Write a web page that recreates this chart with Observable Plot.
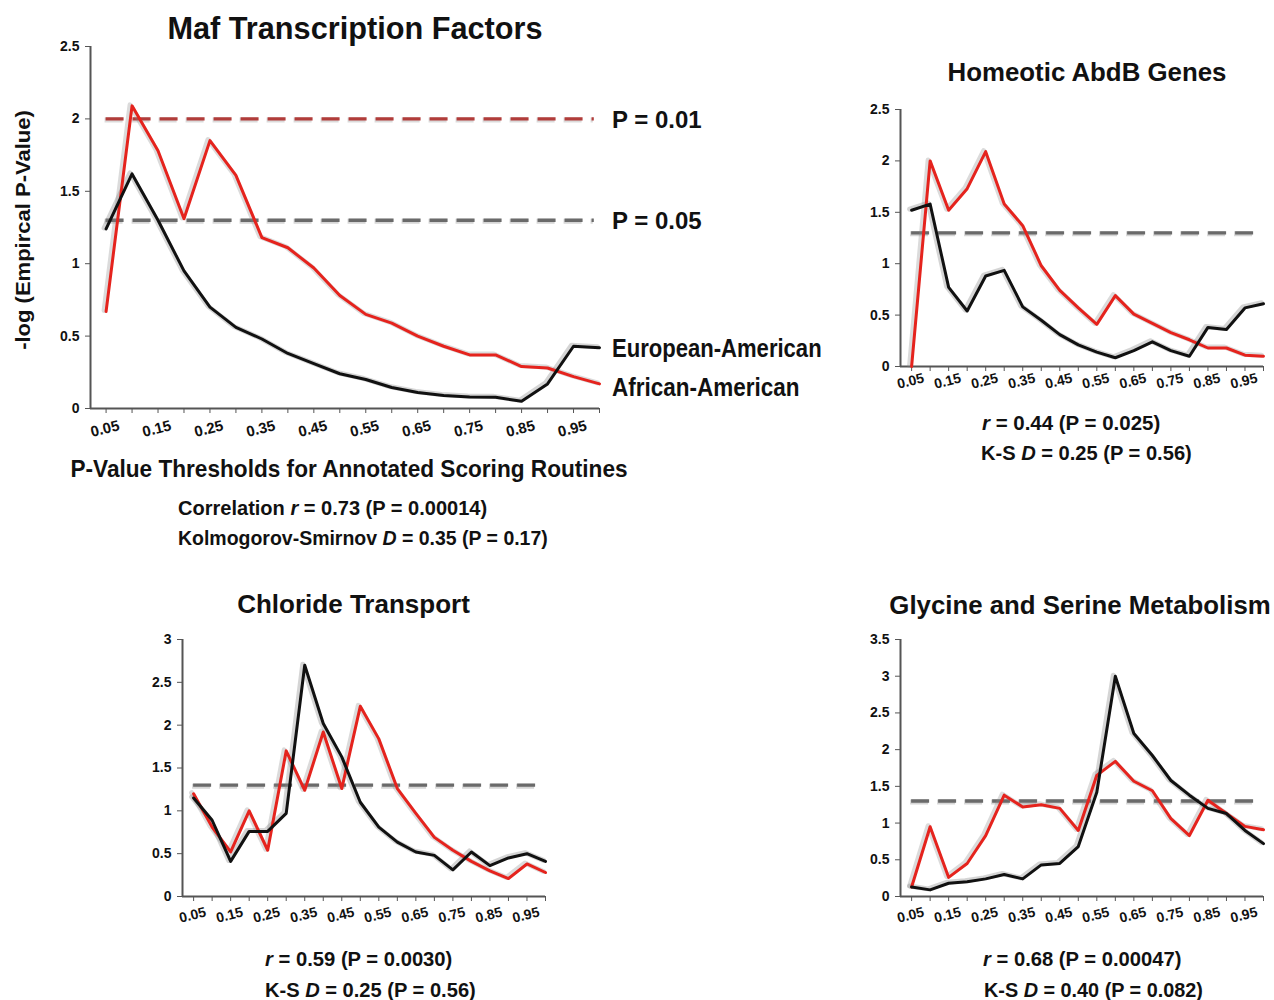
<!DOCTYPE html>
<html>
<head>
<meta charset="utf-8">
<script src="https://cdn.jsdelivr.net/npm/d3@7"></script>
<script src="https://cdn.jsdelivr.net/npm/@observablehq/plot@0.6"></script>
<style>
  html, body { margin: 0; padding: 0; background: #fff; }
  #page { position: relative; width: 1274px; height: 1000px; overflow: hidden; background: #fff; }
  .panel { position: absolute; }
  .t { position: absolute; white-space: nowrap; font-weight: bold; color: #111; line-height: 1;
       font-family: "Liberation Sans", Arial, sans-serif; }
</style>
</head>
<body>
<div id="page"></div>
<script>
// ---------------- data ----------------
const thresholds = [0.05, 0.10, 0.15, 0.20, 0.25, 0.30, 0.35, 0.40, 0.45, 0.50,
                    0.55, 0.60, 0.65, 0.70, 0.75, 0.80, 0.85, 0.90, 0.95, 1.00];
const tickValues = [0.05, 0.15, 0.25, 0.35, 0.45, 0.55, 0.65, 0.75, 0.85, 0.95];
const tickLabels = ["0.05", "0.15", "0.25", "0.35", "0.45", "0.55", "0.65", "0.75", "0.85", "0.95"];
const sigLevels = [2.0, 1.3];   // -log10(0.01), -log10(0.05)

// Maf Transcription Factors
const mafEuropean = [1.24, 1.62, 1.30, 0.95, 0.70, 0.56, 0.48, 0.38, 0.31, 0.24,
                     0.20, 0.145, 0.11, 0.09, 0.08, 0.077, 0.05, 0.17, 0.43, 0.42];
const mafAfrican  = [0.67, 2.09, 1.78, 1.31, 1.85, 1.61, 1.18, 1.11, 0.97, 0.78,
                     0.65, 0.59, 0.50, 0.43, 0.37, 0.37, 0.29, 0.28, 0.22, 0.17];
// Homeotic AbdB Genes
const abdbEuropean = [1.52, 1.58, 0.77, 0.54, 0.88, 0.935, 0.58, 0.45, 0.31, 0.21,
                      0.14, 0.085, 0.155, 0.24, 0.155, 0.10, 0.38, 0.36, 0.57, 0.61];
const abdbAfrican  = [0.0, 2.0, 1.52, 1.73, 2.09, 1.58, 1.37, 0.98, 0.74, 0.57,
                      0.41, 0.69, 0.51, 0.42, 0.33, 0.26, 0.18, 0.18, 0.11, 0.10];
// Chloride Transport
const chlorEuropean = [1.15, 0.89, 0.41, 0.76, 0.76, 0.97, 2.70, 2.02, 1.63, 1.10,
                       0.81, 0.635, 0.52, 0.48, 0.31, 0.52, 0.36, 0.45, 0.50, 0.41];
const chlorAfrican  = [1.20, 0.81, 0.52, 1.00, 0.54, 1.70, 1.24, 1.92, 1.26, 2.22,
                       1.84, 1.26, 0.97, 0.69, 0.54, 0.41, 0.30, 0.21, 0.38, 0.28];
// Glycine and Serine Metabolism
const glyEuropean = [0.13, 0.09, 0.18, 0.20, 0.24, 0.30, 0.24, 0.43, 0.45, 0.68,
                     1.42, 3.00, 2.22, 1.92, 1.58, 1.38, 1.20, 1.13, 0.90, 0.72];
const glyAfrican  = [0.13, 0.95, 0.26, 0.45, 0.83, 1.38, 1.22, 1.25, 1.20, 0.90,
                     1.65, 1.84, 1.57, 1.44, 1.06, 0.83, 1.31, 1.13, 0.955, 0.91];

// ---------------- drawing ----------------
const RED = "#e5231d", BLACK = "#111111", AXIS = "#555555";
const TICK_FONT = "Liberation Sans, Arial, sans-serif";
const page = document.getElementById("page");

function rows(series) { return thresholds.map((t, i) => ({t, v: series[i]})); }

function panel({left, top, width, height, mL, mR, mT, mB, yMax, yTicks, eu, af, redRule, ruleEnd, labelDy, fsY, fsX}) {
  const marks = [];
  const x1 = 0.05, x2 = ruleEnd;
  // threshold rules (with soft shadow)
  if (redRule) {
    marks.push(Plot.ruleY([sigLevels[0]], {x1, x2, stroke: "#999", strokeOpacity: 0.35, strokeWidth: 5, strokeDasharray: "18,9", dx: -1, dy: 1}));
    marks.push(Plot.ruleY([sigLevels[0]], {x1, x2, stroke: "#b13c3a", strokeWidth: 3.4, strokeDasharray: "18,9"}));
  }
  marks.push(Plot.ruleY([sigLevels[1]], {x1, x2, stroke: "#999", strokeOpacity: 0.4, strokeWidth: 5, strokeDasharray: "18,9", dx: -1, dy: 1}));
  marks.push(Plot.ruleY([sigLevels[1]], {x1, x2, stroke: "#6a6a6a", strokeWidth: 3.4, strokeDasharray: "18,9"}));
  // axes
  marks.push(Plot.ruleX([0.02], {stroke: AXIS, strokeWidth: 2}));
  marks.push(Plot.ruleY([0], {stroke: AXIS, strokeWidth: 2}));
  marks.push(Plot.axisY({ticks: yTicks, tickSize: 5, tickPadding: 6, tickFormat: d => String(d),
                         stroke: AXIS, fill: "#111", label: null,
                         fontSize: fsY, fontWeight: "bold", fontFamily: TICK_FONT}));
  marks.push(Plot.axisX({ticks: thresholds, tickSize: 5, tickFormat: () => "", stroke: AXIS, label: null}));
  marks.push(Plot.text(tickValues, {x: d => d, text: (d, i) => tickLabels[i], frameAnchor: "bottom",
                                    dy: labelDy, rotate: -14, fill: "#111",
                                    fontSize: fsX, fontWeight: "bold", fontFamily: TICK_FONT}));
  // data lines with shadow
  marks.push(Plot.line(rows(eu), {x: "t", y: "v", stroke: "#888", strokeOpacity: 0.35, strokeWidth: 5, dx: -2, dy: -1}));
  marks.push(Plot.line(rows(af), {x: "t", y: "v", stroke: "#888", strokeOpacity: 0.3, strokeWidth: 5, dx: -2, dy: -1}));
  marks.push(Plot.line(rows(af), {x: "t", y: "v", stroke: RED, strokeWidth: 3}));
  marks.push(Plot.line(rows(eu), {x: "t", y: "v", stroke: BLACK, strokeWidth: 3}));

  const svg = Plot.plot({
    width, height, marginLeft: mL, marginRight: mR, marginTop: mT, marginBottom: mB,
    x: {domain: [0.02, 1.0], axis: null},
    y: {domain: [0, yMax], axis: null},
    style: {fontFamily: TICK_FONT, fontWeight: "bold", background: "transparent", overflow: "visible"},
    marks
  });
  const div = document.createElement("div");
  div.className = "panel";
  div.style.left = left + "px";
  div.style.top = top + "px";
  div.appendChild(svg);
  page.appendChild(div);
}

// text placed by its cap-centre y, squeezed horizontally to the reference width
function text(html, x, y, size, targetWidth, anchor = "middle", rotate = 0) {
  const d = document.createElement("div");
  d.className = "t";
  d.innerHTML = html;
  d.style.fontSize = size + "px";
  page.appendChild(d);
  const w = d.offsetWidth;
  const k = targetWidth ? targetWidth / w : 1;
  d.style.left = x + "px";
  d.style.top = y + "px";
  d.style.transformOrigin = "0 0";
  if (rotate) {
    d.style.transform = `rotate(${rotate}deg) scaleX(${k}) translate(-50%, -50%)`;
  } else if (anchor === "middle") {
    d.style.transform = `scaleX(${k}) translate(-50%, -50%)`;
  } else {
    d.style.transform = `scaleX(${k}) translate(0, -50%)`;
  }
  return d;
}

// Main panel
panel({left: 0, top: 30, width: 620, height: 420, mL: 90, mR: 21, mT: 16, mB: 42,
       yMax: 2.5, yTicks: [0, 0.5, 1, 1.5, 2, 2.5], eu: mafEuropean, af: mafAfrican,
       redRule: true, ruleEnd: 0.99, labelDy: 25, fsY: 14, fsX: 15});
// Homeotic
panel({left: 860, top: 90, width: 414, height: 320, mL: 40, mR: 11, mT: 19, mB: 44,
       yMax: 2.5, yTicks: [0, 0.5, 1, 1.5, 2, 2.5], eu: abdbEuropean, af: abdbAfrican,
       redRule: false, ruleEnd: 0.975, labelDy: 19, fsY: 14, fsX: 14});
// Chloride
panel({left: 140, top: 620, width: 420, height: 320, mL: 42, mR: 15, mT: 19, mB: 44,
       yMax: 3, yTicks: [0, 0.5, 1, 1.5, 2, 2.5, 3], eu: chlorEuropean, af: chlorAfrican,
       redRule: false, ruleEnd: 0.975, labelDy: 23, fsY: 14, fsX: 14});
// Glycine
panel({left: 860, top: 620, width: 414, height: 320, mL: 40, mR: 11, mT: 19, mB: 44,
       yMax: 3.5, yTicks: [0, 0.5, 1, 1.5, 2, 2.5, 3, 3.5], eu: glyEuropean, af: glyAfrican,
       redRule: false, ruleEnd: 0.975, labelDy: 23, fsY: 14, fsX: 14});

// ---------------- text ----------------
text("Maf Transcription Factors", 354.5, 28, 32, 375);
text("-log (Empircal P-Value)", 22, 230, 21, 240, "middle", -90);
text("P = 0.01", 612, 120, 24, 90, "start");
text("P = 0.05", 612, 221, 24, 90, "start");
text("European-American", 612, 348, 25, 210, "start");
text("African-American", 612, 387, 25, 187, "start");
text("P-Value Thresholds for Annotated Scoring Routines", 348.5, 469, 24, 557);
text("Correlation <i>r</i> = 0.73 (P = 0.00014)", 178, 507, 21, 309, "start");
text("Kolmogorov-Smirnov <i>D</i> = 0.35 (P = 0.17)", 178, 537, 21, 370, "start");

text("Homeotic AbdB Genes", 1086.5, 72, 26, 279);
text("<i>r</i> = 0.44 (P = 0.025)", 982, 423, 20, 178, "start");
text("K-S <i>D</i> = 0.25 (P = 0.56)", 981, 453, 20, 211, "start");

text("Chloride Transport", 353.5, 604, 26, 233);
text("<i>r</i> = 0.59 (P = 0.0030)", 265, 959, 20, 187, "start");
text("K-S <i>D</i> = 0.25 (P = 0.56)", 265, 990, 20, 211, "start");

text("Glycine and Serine Metabolism", 1079.5, 605, 26, 381);
text("<i>r</i> = 0.68 (P = 0.00047)", 983, 959, 20, 198, "start");
text("K-S <i>D</i> = 0.40 (P = 0.082)", 984, 990, 20, 219, "start");
</script>
</body>
</html>
